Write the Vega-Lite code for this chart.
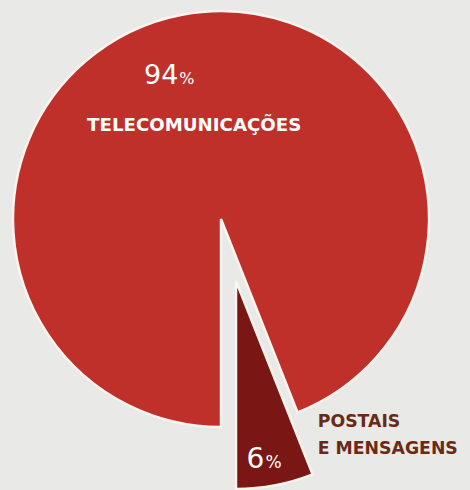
{
  "$schema": "https://vega.github.io/schema/vega-lite/v6.json",
  "width": 442,
  "height": 438,
  "autosize": "none",
  "padding": {"left": 0, "top": 0, "right": 28, "bottom": 52},
  "background": "#e9e9e7",
  "view": {"stroke": null},
  "data": {
    "values": [
      {"segmento": "TELECOMUNICAÇÕES", "nome": "TELECOMUNICAÇÕES", "valor": 94},
      {"segmento": "POSTAIS E MENSAGENS", "nome": "POSTAIS\nE MENSAGENS", "valor": 6}
    ]
  },
  "encoding": {
    "theta": {"field": "valor", "type": "quantitative", "stack": true, "scale": {"domain": [0, 100], "range": [3.14159265, 9.42477796]}},
    "order": {"field": "valor", "type": "quantitative", "sort": "descending"}
  },
  "layer": [
    {
      "mark": {
        "type": "arc",
        "outerRadius": 208,
        "stroke": "#fbf3ee",
        "strokeWidth": 2.5,
        "xOffset": {"expr": "datum.valor < 50 ? 15 : 0"},
        "yOffset": {"expr": "datum.valor < 50 ? 62 : 0"}
      },
      "encoding": {
        "color": {
          "field": "segmento",
          "type": "nominal",
          "scale": {"domain": ["TELECOMUNICAÇÕES", "POSTAIS E MENSAGENS"], "range": ["#c0302b", "#7a1714"]},
          "legend": null
        }
      }
    },
    {
      "mark": {
        "type": "text",
        "font": "DejaVu Sans",
        "fontSize": {"expr": "datum.valor < 50 ? 28 : 27"},
        "fill": "white",
        "align": "right",
        "baseline": "alphabetic",
        "radius": {"expr": "datum.valor < 50 ? 253 : 137"},
        "dx": {"expr": "datum.valor < 50 ? -4 : -17"},
        "dy": 0
      },
      "encoding": {"text": {"field": "valor", "type": "quantitative", "format": "d"}}
    },
    {
      "mark": {
        "type": "text",
        "font": "DejaVu Sans",
        "fontSize": {"expr": "datum.valor < 50 ? 17 : 16"},
        "fill": "white",
        "align": "left",
        "baseline": "alphabetic",
        "radius": {"expr": "datum.valor < 50 ? 253 : 137"},
        "dx": {"expr": "datum.valor < 50 ? -3 : -16"},
        "dy": 0,
        "text": "%"
      }
    },
    {
      "mark": {
        "type": "text",
        "font": "DejaVu Sans",
        "fontWeight": "bold",
        "fontSize": {"expr": "datum.valor < 50 ? 17.3 : 18.2"},
        "lineBreak": "\n",
        "lineHeight": 27,
        "fill": {"expr": "datum.valor < 50 ? '#6a2a16' : 'white'"},
        "align": {"expr": "datum.valor < 50 ? 'left' : 'center'"},
        "radius": {"expr": "datum.valor < 50 ? 207 : 95"},
        "dx": {"expr": "datum.valor < 50 ? 58 : -9"},
        "dy": 0
      },
      "encoding": {"text": {"field": "nome"}}
    }
  ]
}
